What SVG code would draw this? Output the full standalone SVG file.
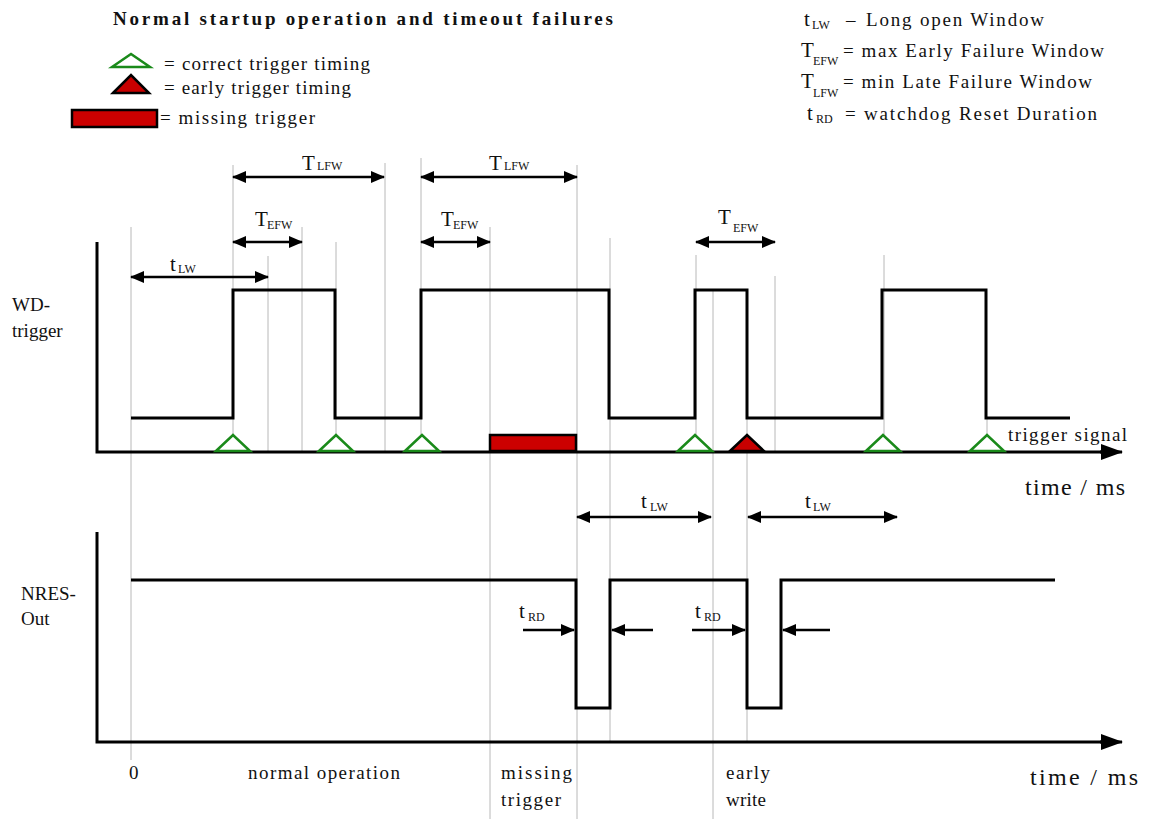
<svg xmlns="http://www.w3.org/2000/svg" width="1151" height="819" viewBox="0 0 1151 819">
<defs>
<style>
text{font-family:"Liberation Serif","Times New Roman",serif;fill:#111}
.lbl{font-size:19px}
.big{font-size:21px}
.sub{font-size:12px}
.guide{stroke:#b8b8b8;stroke-width:1;fill:none}
.wave{stroke:#000;stroke-width:3;fill:none;stroke-linejoin:miter}
.axis{stroke:#000;stroke-width:3;fill:none}
.dim{stroke:#000;stroke-width:2.5;fill:none;marker-end:url(#ah);marker-start:url(#ah)}
.one{stroke:#000;stroke-width:2.5;fill:none;marker-end:url(#ah)}
.ok{fill:#fff;stroke:#1a8a1a;stroke-width:2.5}
.early{fill:#c80000;stroke:#000;stroke-width:2.5}
.miss{fill:#cc0000;stroke:#000;stroke-width:2.5}
</style>
<marker id="ah" viewBox="0 0 14 12" refX="13" refY="6" markerWidth="14" markerHeight="12" markerUnits="userSpaceOnUse" orient="auto-start-reverse"><path d="M0,0 L14,6 L0,12 z" fill="#000"/></marker>
<marker id="axh" viewBox="0 0 22 16" refX="21" refY="8" markerWidth="22" markerHeight="16" markerUnits="userSpaceOnUse" orient="auto"><path d="M0,0 L22,8 L0,16 z" fill="#000"/></marker>
</defs>
<rect width="1151" height="819" fill="#fff"/>

<g id="guides">
<line class="guide" x1="131" y1="227" x2="131" y2="760"/>
<line class="guide" x1="233" y1="165" x2="233" y2="436"/>
<line class="guide" x1="268" y1="256" x2="268" y2="452"/>
<line class="guide" x1="302" y1="227" x2="302" y2="452"/>
<line class="guide" x1="336" y1="242" x2="336" y2="436"/>
<line class="guide" x1="385" y1="163" x2="385" y2="452"/>
<line class="guide" x1="421" y1="158" x2="421" y2="436"/>
<line class="guide" x1="490" y1="227" x2="490" y2="819"/>
<line class="guide" x1="577" y1="165" x2="577" y2="819"/>
<line class="guide" x1="610" y1="238" x2="610" y2="742"/>
<line class="guide" x1="696" y1="255" x2="696" y2="436"/>
<line class="guide" x1="713" y1="291" x2="713" y2="819"/>
<line class="guide" x1="747" y1="295" x2="747" y2="742"/>
<line class="guide" x1="775" y1="276" x2="775" y2="452"/>
<line class="guide" x1="884" y1="255" x2="884" y2="436"/>
<line class="guide" x1="987" y1="418" x2="987" y2="436"/>
</g>

<g id="title">
<text x="113" y="25" font-size="19" font-weight="bold" textLength="500" lengthAdjust="spacing">Normal startup operation and timeout failures</text>
</g>

<g id="legend-left">
<polygon class="ok" points="112,67 131,54 150,67"/>
<text class="lbl" x="164" y="70" textLength="206" lengthAdjust="spacing">= correct trigger timing</text>
<polygon class="early" points="113,93 131,75 149,93"/>
<text class="lbl" x="164" y="94" textLength="187" lengthAdjust="spacing">= early trigger timing</text>
<rect class="miss" x="72" y="110" width="85" height="17"/>
<text class="lbl" x="160" y="124" textLength="155" lengthAdjust="spacing">= missing trigger</text>
</g>

<g id="legend-right">
<text class="big" x="804" y="26">t</text><text class="sub" x="812" y="29">LW</text>
<text class="lbl" x="846" y="26">–</text>
<text class="lbl" x="866" y="26" textLength="178" lengthAdjust="spacing">Long open Window</text>
<text class="big" x="801" y="57">T</text><text class="sub" x="813" y="65">EFW</text>
<text class="lbl" x="843" y="57" textLength="261" lengthAdjust="spacing">= max Early Failure Window</text>
<text class="big" x="801" y="88">T</text><text class="sub" x="813" y="97">LFW</text>
<text class="lbl" x="843" y="88" textLength="249" lengthAdjust="spacing">= min Late Failure Window</text>
<text class="big" x="807" y="120">t</text><text class="sub" x="816" y="123">RD</text>
<text class="lbl" x="845" y="120" textLength="252" lengthAdjust="spacing">= watchdog Reset Duration</text>
</g>

<g id="wd-trigger-chart">
<text class="lbl" x="12" y="311">WD-</text>
<text class="lbl" x="12" y="337">trigger</text>
<polyline class="axis" points="97,242 97,452 1102,452"/>
<line stroke="#000" stroke-width="3" x1="1100" y1="452" x2="1122" y2="452" marker-end="url(#axh)"/>
<polyline class="wave" points="131,418 233,418 233,290 335,290 335,418 421,418 421,290 609,290 609,418 695,418 695,290 747,290 747,418 882,418 882,290 986,290 986,418 1070,418"/>
<text class="lbl" x="1008" y="441" textLength="119" lengthAdjust="spacing">trigger signal</text>
<text font-size="24" x="1025" y="495" textLength="100" lengthAdjust="spacing">time / ms</text>
</g>

<g id="triggers">
<polygon class="ok" points="216,451 233,435 250,451"/>
<polygon class="ok" points="319,451 336,435 353,451"/>
<polygon class="ok" points="405,451 422,435 439,451"/>
<rect class="miss" x="490" y="435" width="86" height="16"/>
<polygon class="ok" points="678,451 695,435 712,451"/>
<polygon class="early" points="730,451 747,435 764,451"/>
<polygon class="ok" points="866,451 883,435 900,451"/>
<polygon class="ok" points="970,451 987,435 1004,451"/>
</g>

<g id="upper-dimensions">
<line class="dim" x1="233" y1="177" x2="384" y2="177"/>
<text class="big" x="302" y="170">T</text><text class="sub" x="317" y="170">LFW</text>
<line class="dim" x1="421" y1="177" x2="577" y2="177"/>
<text class="big" x="489" y="170">T</text><text class="sub" x="504" y="170">LFW</text>
<line class="dim" x1="233" y1="242" x2="302" y2="242"/>
<text class="big" x="255" y="226">T</text><text class="sub" x="267" y="229">EFW</text>
<line class="dim" x1="421" y1="242" x2="490" y2="242"/>
<text class="big" x="441" y="226">T</text><text class="sub" x="453" y="229">EFW</text>
<line class="dim" x1="696" y1="242" x2="775" y2="242"/>
<text class="big" x="718" y="224">T</text><text class="sub" x="733" y="232">EFW</text>
<line class="dim" x1="131" y1="277" x2="268" y2="277"/>
<text class="big" x="170" y="271">t</text><text class="sub" x="178" y="273">LW</text>
</g>

<g id="nres-chart">
<text class="lbl" x="21" y="600">NRES-</text>
<text class="lbl" x="21" y="625">Out</text>
<polyline class="axis" points="97,532 97,742 1102,742"/>
<line stroke="#000" stroke-width="3" x1="1100" y1="742" x2="1122" y2="742" marker-end="url(#axh)"/>
<polyline class="wave" points="131,580 576,580 576,708 610,708 610,580 747,580 747,708 781,708 781,580 1055,580"/>
<text font-size="24" x="1030" y="785" textLength="108" lengthAdjust="spacing">time / ms</text>
</g>

<g id="lower-dimensions">
<line class="dim" x1="577" y1="517" x2="711" y2="517"/>
<text class="big" x="641" y="508">t</text><text class="sub" x="650" y="511">LW</text>
<line class="dim" x1="748" y1="517" x2="897" y2="517"/>
<text class="big" x="805" y="508">t</text><text class="sub" x="813" y="511">LW</text>
<line class="one" x1="523" y1="630" x2="574" y2="630"/>
<line class="one" x1="653" y1="630" x2="612" y2="630"/>
<text class="big" x="519" y="618">t</text><text class="sub" x="528" y="621">RD</text>
<line class="one" x1="692" y1="630" x2="745" y2="630"/>
<line class="one" x1="830" y1="630" x2="783" y2="630"/>
<text class="big" x="695" y="618">t</text><text class="sub" x="704" y="621">RD</text>
</g>

<g id="phase-labels">
<text class="lbl" x="129" y="779">0</text>
<text class="lbl" x="248" y="779" textLength="152" lengthAdjust="spacing">normal operation</text>
<text class="lbl" x="501" y="779" textLength="71" lengthAdjust="spacing">missing</text>
<text class="lbl" x="501" y="806" textLength="60" lengthAdjust="spacing">trigger</text>
<text class="lbl" x="726" y="779" textLength="44" lengthAdjust="spacing">early</text>
<text class="lbl" x="726" y="806" textLength="40" lengthAdjust="spacing">write</text>
</g>
</svg>
